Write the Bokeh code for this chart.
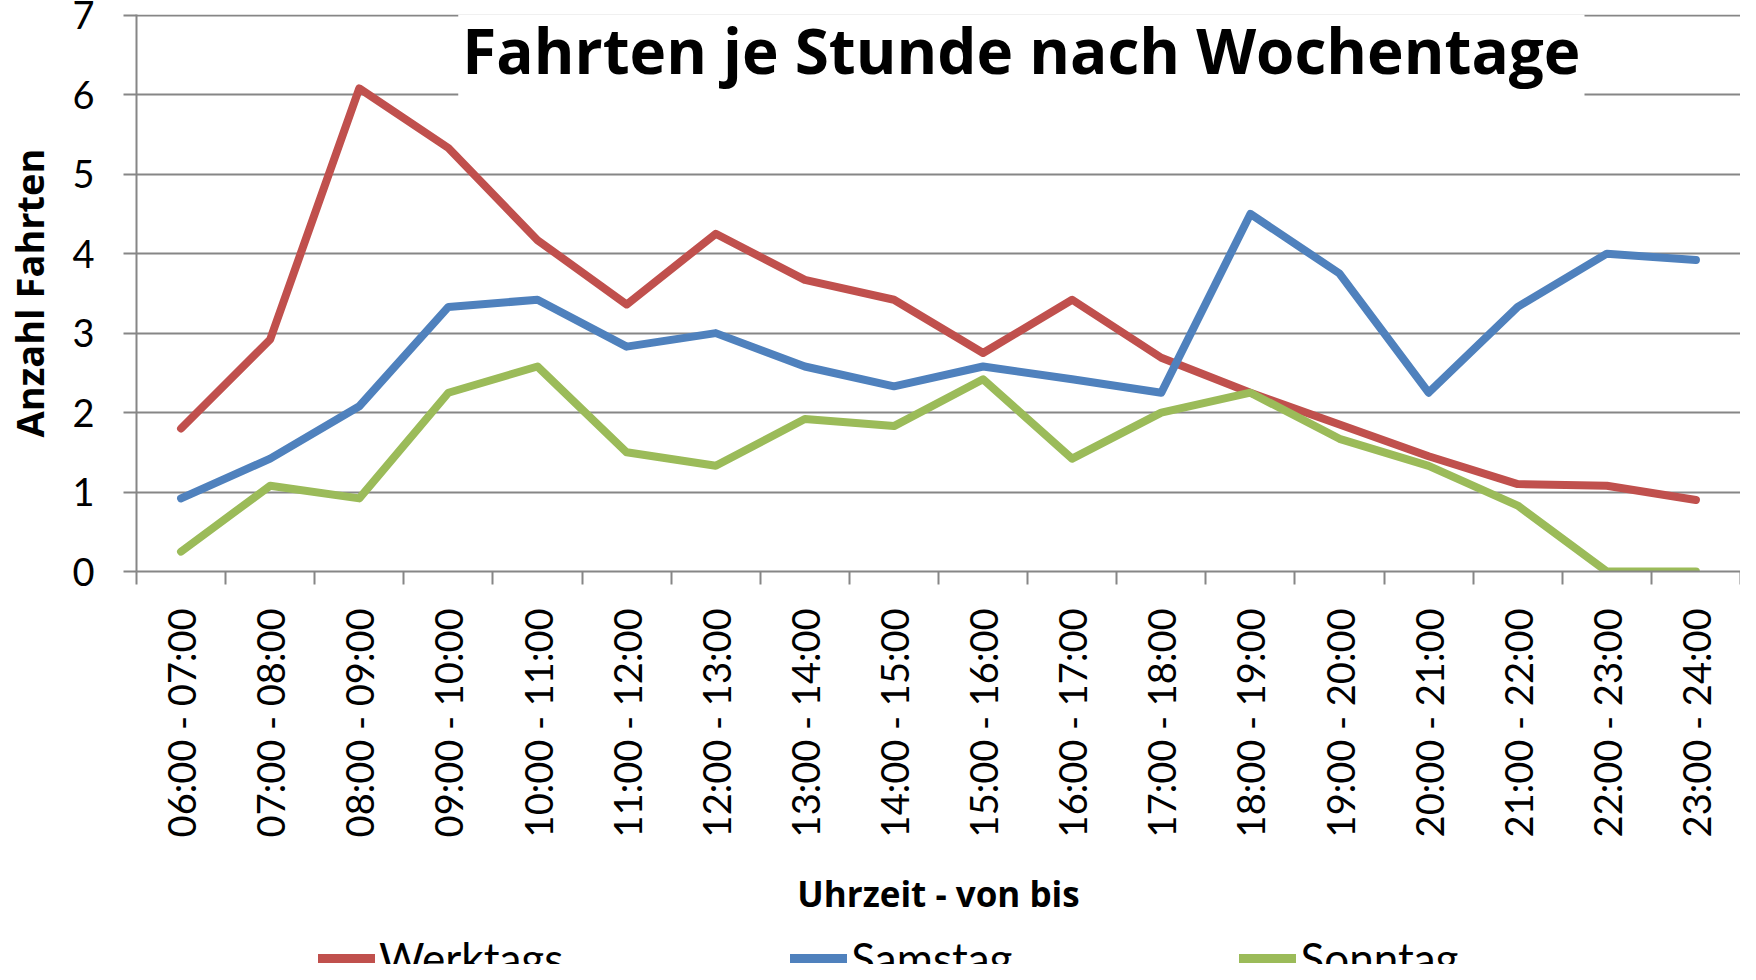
import math
from bokeh.plotting import figure
from bokeh.layouts import column
from bokeh.models import FixedTicker, Label, Legend, LegendItem, Range1d, ColumnDataSource
from bokeh.embed import file_html
from bokeh.resources import INLINE

categories = ["06:00 - 07:00", "07:00 - 08:00", "08:00 - 09:00", "09:00 - 10:00",
              "10:00 - 11:00", "11:00 - 12:00", "12:00 - 13:00", "13:00 - 14:00",
              "14:00 - 15:00", "15:00 - 16:00", "16:00 - 17:00", "17:00 - 18:00",
              "18:00 - 19:00", "19:00 - 20:00", "20:00 - 21:00", "21:00 - 22:00",
              "22:00 - 23:00", "23:00 - 24:00"]
werktags = [1.8, 2.92, 6.08, 5.33, 4.17, 3.36, 4.25, 3.67, 3.42, 2.75, 3.42, 2.69,
            2.25, 1.85, 1.45, 1.1, 1.08, 0.9]
samstag = [0.92, 1.42, 2.08, 3.33, 3.42, 2.83, 3.0, 2.58, 2.33, 2.58, 2.42, 2.25,
           4.5, 3.75, 2.25, 3.33, 4.0, 3.92]
sonntag = [0.25, 1.08, 0.92, 2.25, 2.58, 1.5, 1.33, 1.92, 1.83, 2.42, 1.42, 2.0,
           2.25, 1.67, 1.33, 0.83, 0.0, 0.0]
series_names = ["Werktags", "Samstag", "Sonntag"]
series_colors = ["#C0504D", "#4F81BD", "#9BBB59"]
y_ticks = [0, 1, 2, 3, 4, 5, 6, 7]

FONT = "Lato"
BFONT = "Open Sans"
GRID = "#868686"

xs = [i + 0.5 for i in range(len(categories))]
src = ColumnDataSource(dict(x=xs, w=werktags, s=samstag, so=sonntag))
cols = ["w", "s", "so"]

p = figure(width=1740, height=920, x_range=Range1d(0, len(categories)), y_range=Range1d(0, 7.01),
           output_backend="svg", toolbar_location=None,
           min_border_left=124, min_border_right=0, min_border_top=14, min_border_bottom=348)
p.outline_line_color = None
p.background_fill_color = "white"

for c, col in zip(cols, series_colors):
    p.line("x", c, source=src, line_color=col, line_width=8, line_join="round", line_cap="round")

p.xgrid.grid_line_color = None
p.ygrid.grid_line_color = GRID
p.ygrid.grid_line_width = 2
p.ygrid.ticker = FixedTicker(ticks=y_ticks)

xa = p.xaxis[0]
xa.ticker = FixedTicker(ticks=xs, minor_ticks=list(range(len(categories) + 1)))
xa.major_label_overrides = {x: c for x, c in zip(xs, categories)}
xa.major_label_orientation = math.pi / 2
xa.major_tick_out = 0
xa.major_tick_in = 0
xa.minor_tick_out = 13
xa.minor_tick_in = 0
xa.minor_tick_line_color = GRID
xa.minor_tick_line_width = 2
xa.axis_line_color = GRID
xa.axis_line_width = 2
xa.major_label_text_font = FONT
xa.major_label_text_font_size = "38px"
xa.major_label_text_color = "black"
xa.major_label_standoff = 24
xa.axis_label = "Uhrzeit - von bis"
xa.axis_label_text_font = BFONT
xa.axis_label_text_font_style = "bold"
xa.axis_label_text_font_size = "35px"
xa.axis_label_text_color = "black"
xa.axis_label_standoff = 30

ya = p.yaxis[0]
ya.ticker = FixedTicker(ticks=y_ticks)
ya.major_tick_out = 13
ya.major_tick_in = 0
ya.major_tick_line_color = GRID
ya.major_tick_line_width = 2
ya.minor_tick_line_color = None
ya.axis_line_color = GRID
ya.axis_line_width = 2
ya.major_label_text_font = FONT
ya.major_label_text_font_size = "38px"
ya.major_label_text_color = "black"
ya.major_label_standoff = 29
ya.axis_label = "Anzahl Fahrten"
ya.axis_label_text_font = BFONT
ya.axis_label_text_font_style = "bold"
ya.axis_label_text_font_size = "38px"
ya.axis_label_text_color = "black"
ya.axis_label_standoff = 14

title = Label(x=9.93, y=6.56, text="Fahrten je Stunde nach Wochentage",
              text_font=BFONT, text_font_style="bold", text_font_size="62px",
              text_color="black", text_align="center", text_baseline="middle",
              background_fill_color="white", padding=(4, 20))
p.add_layout(title)

# legend strip below the chart
pl = figure(width=1740, height=44, x_range=Range1d(-100, -99), y_range=Range1d(-100, -99),
            output_backend="svg", toolbar_location=None,
            min_border_left=0, min_border_right=0, min_border_top=0, min_border_bottom=0)
pl.axis.visible = False
pl.grid.visible = False
pl.outline_line_color = None
items = []
for c, col, name in zip(cols, series_colors, series_names):
    r = pl.line("x", c, source=src, line_color=col, line_width=9, line_cap="round")
    items.append(LegendItem(label=name, renderers=[r]))
legend = Legend(items=items, orientation="horizontal", location=(182, -20),
                glyph_width=57, glyph_height=10, label_standoff=4, spacing=227,
                padding=0, margin=0, border_line_color=None, background_fill_alpha=0,
                label_text_font=FONT, label_text_font_size="44px", label_text_color="black")
pl.add_layout(legend, "center")

open("out.html", "w").write(file_html(column(p, pl, spacing=0), INLINE))
